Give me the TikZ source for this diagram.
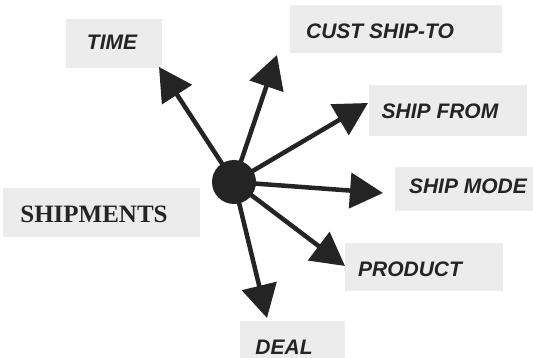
\documentclass[tikz,border=0pt]{standalone}
\usepackage{fontspec}
\setmainfont{Liberation Serif}
\newfontfamily\labelfont{Liberation Sans}
\usetikzlibrary{arrows.meta}
\definecolor{boxgray}{RGB}{236,236,236}
\definecolor{ink}{RGB}{36,36,36}
\begin{document}
\begin{tikzpicture}[x=1pt,y=-1pt,
  lbl/.style={font=\labelfont\bfseries\itshape\fontsize{21}{23}\selectfont, text=ink, inner sep=0pt},
  titlelbl/.style={font=\bfseries\fontsize{25}{27}\selectfont, text=ink, inner sep=0pt},
  box/.style={fill=boxgray},
  ray/.style={draw=ink, line width=4.5pt, -{Triangle[length=33pt,width=35pt]}}]
\useasboundingbox (0,0) rectangle (533,358);
\fill[white] (0,0) rectangle (533,358);
% label backgrounds
\fill[box] (66,19) rectangle (162,68);
\fill[box] (290,5) rectangle (502,53);
\fill[box] (369,85) rectangle (527,136);
\fill[box] (395,167) rectangle (533,211);
\fill[box] (3,188) rectangle (200,237);
\fill[box] (345,243) rectangle (503,291);
\fill[box] (240,321) rectangle (345,358);
% labels
\node[lbl] (time) at (112,42) {TIME};
\node[lbl] (cust) at (380,31) {CUST SHIP-TO};
\node[lbl] (from) at (440,111) {SHIP FROM};
\node[lbl] (mode) at (468,186) {SHIP MODE};
\node[titlelbl] (ship) at (94,214) {SHIPMENTS};
\node[lbl] (prod) at (410,269) {PRODUCT};
\node[lbl] (deal) at (284,347) {DEAL};
% hub
\node[circle, fill=ink, minimum size=44pt, inner sep=0pt] (hub) at (234,182) {};
% arrow tips
\coordinate (tTime) at (159,67);
\coordinate (tCust) at (277,55);
\coordinate (tFrom) at (368,103);
\coordinate (tMode) at (383,193);
\coordinate (tProd) at (345,266);
\coordinate (tDeal) at (267,318);
\draw[ray] (hub.center) -- (tTime);
\draw[ray] (hub.center) -- (tCust);
\draw[ray] (hub.center) -- (tFrom);
\draw[ray] (hub.center) -- (tMode);
\draw[ray] (hub.center) -- (tProd);
\draw[ray] (hub.center) -- (tDeal);
\end{tikzpicture}
\end{document}
